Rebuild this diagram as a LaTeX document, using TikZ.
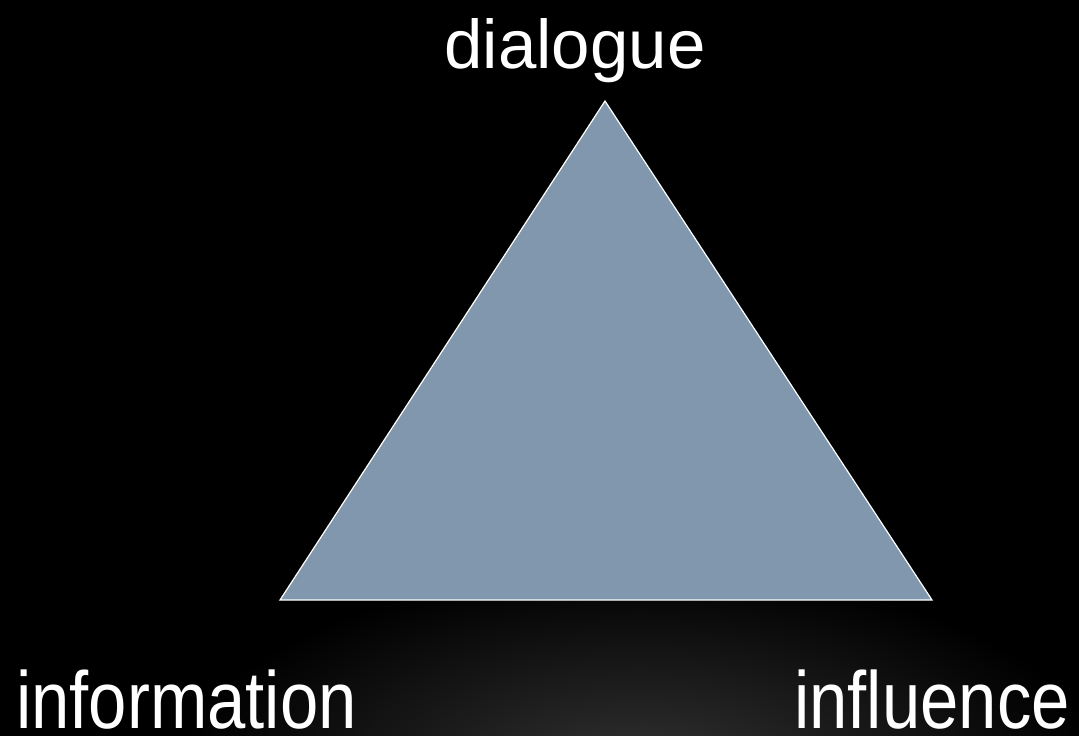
\documentclass[tikz,border=0pt]{standalone}
\usepackage{fontspec}
\setmainfont{Liberation Sans}
\newfontfamily\narrowlab[FakeStretch=0.85]{Liberation Sans}
\definecolor{trifill}{HTML}{8097AE}
\definecolor{glow}{HTML}{323232}
\begin{document}
\begin{tikzpicture}[x=1bp,y=-1bp,
  toplabel/.style={text=white,inner sep=0pt,font=\fontsize{69bp}{72bp}\selectfont},
  botlabel/.style={text=white,inner sep=0pt,text depth=0pt,font=\narrowlab\fontsize{81bp}{85bp}\selectfont}]
\fill[black] (0,0) rectangle (1079,736);
\useasboundingbox (0,0) rectangle (1079,736);
\begin{scope}
\clip (0,0) rectangle (1079,736);
\shade[inner color=glow,outer color=black] (640,770) ellipse [x radius=460, y radius=200];
\end{scope}
\coordinate (apex) at (605,101);
\coordinate (bl) at (280,600);
\coordinate (br) at (932,600);
\fill[trifill,draw=white,line width=1.2bp,line join=miter] (apex) -- (br) -- (bl) -- cycle;
\node[toplabel,anchor=base] (dialogue) at (575,69) {dialogue};
\node[botlabel,anchor=base west] (information) at (16,728) {information};
\node[botlabel,anchor=base east] (influence) at (1070,728) {influence};
\end{tikzpicture}
\end{document}
